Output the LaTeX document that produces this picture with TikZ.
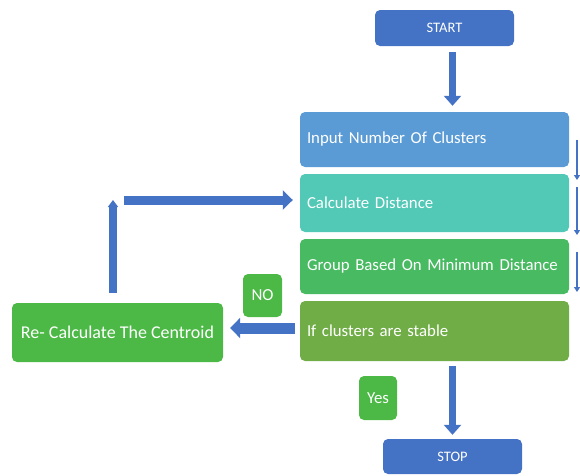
\documentclass[tikz,border=0pt]{standalone}
\usepackage{fontspec}
\setmainfont{Carlito}
\usetikzlibrary{arrows.meta,calc}
\definecolor{dblue}{HTML}{4472C4}
\definecolor{lblue}{HTML}{5B9BD5}
\definecolor{teal1}{HTML}{51C9B6}
\definecolor{grn1}{HTML}{48BA62}
\definecolor{olive1}{HTML}{70AD47}
\definecolor{grn2}{HTML}{4CB946}
\tikzset{
  box/.style={rectangle, rounded corners=5pt, draw=none, text=white, font=\fontsize{16.8}{19}\selectfont},
  wide/.style={box, minimum width=269pt, text width=255pt, inner xsep=7pt, align=left},
  term/.style={box, fill=dblue, minimum width=139pt, font=\fontsize{14.5}{16}\selectfont},
  tag/.style={box, fill=grn2, inner sep=0pt},
  blockarrow/.style={draw=dblue, line width=7pt, -{Triangle[width=17pt,length=10pt]}},
  thinarrow/.style={draw=dblue, line width=1.8pt, -{Triangle[width=6pt,length=5pt]}}
}
\begin{document}
\begin{tikzpicture}[x=1pt,y=-1pt]
\useasboundingbox (0,0) rectangle (580,475);
\clip (0,0) rectangle (580,475);
\node[term, minimum height=36pt] (start) at (444.5,28) {START};
\node[wide, fill=lblue, minimum height=55pt] (input) at (434.5,139.5) {Input Number Of Clusters};
\node[wide, fill=teal1, minimum height=58pt] (calc) at (434.5,203) {Calculate Distance};
\node[wide, fill=grn1, minimum height=55pt] (group) at (434.5,266.5) {Group Based On Minimum Distance};
\node[wide, fill=olive1, minimum height=60pt] (stable) at (434.5,331) {If clusters are stable};
\node[term, minimum height=35pt] (stop) at (452.5,456.5) {STOP};
\node[box, fill=grn2, minimum width=211pt, minimum height=59pt, font=\fontsize{18}{20}\selectfont] (recalc) at (117.5,332.5) {Re- Calculate The Centroid};
\node[tag, minimum width=39pt, minimum height=43pt] (no) at (262.5,295.5) {NO};
\node[tag, minimum width=38pt, minimum height=44pt] (yes) at (378,398) {Yes};

\coordinate (corner) at (113,200);
\coordinate (hstart) at (124,200);

\draw[blockarrow, shorten <=6pt, shorten >=6pt] (start.south -| stop) -- (input.north -| stop);
\draw[blockarrow, shorten <=5pt, shorten >=4pt] (stable.south -| stop) -- (stop.north);
\draw[blockarrow, line width=11pt, -{Triangle[width=20pt,length=10pt]}, shorten <=5pt, shorten >=7pt] ([yshift=3pt]stable.west) -- ([yshift=3pt]stable.west -| recalc.east);
\draw[blockarrow, line width=8pt, -{Triangle[width=10pt,length=7pt]}, shorten <=10pt] (recalc.north -| corner) -- (corner);
\draw[blockarrow, line width=9pt, -{Triangle[width=19pt,length=10pt]}, shorten >=7pt] (hstart) -- (hstart -| calc.west);

\coordinate (a1) at (577,140);
\coordinate (a2) at (577,180);
\coordinate (b1) at (577,187);
\coordinate (b2) at (577,235);
\coordinate (c1) at (577,252);
\coordinate (c2) at (577,292);
\draw[thinarrow] (a1) -- (a2);
\draw[thinarrow] (b1) -- (b2);
\draw[thinarrow] (c1) -- (c2);
\end{tikzpicture}
\end{document}
